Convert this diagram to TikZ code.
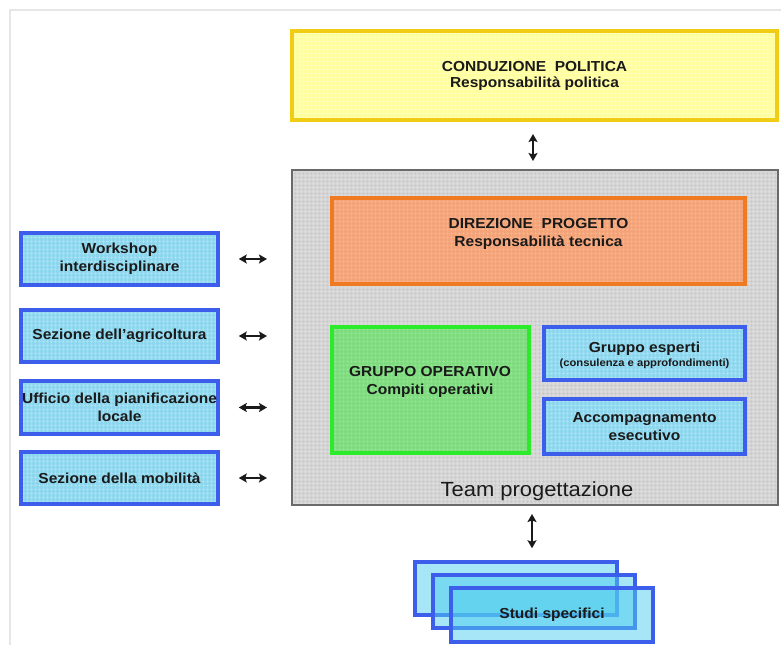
\documentclass[tikz,border=0pt]{standalone}
\usepackage{fontspec}
\setmainfont{Liberation Sans}[FakeStretch=1.07]
\usetikzlibrary{arrows.meta,patterns.meta}

\definecolor{ylwD}{HTML}{F0CC14}
\definecolor{ylwF}{HTML}{FFFFA0}
\definecolor{ylwG}{HTML}{FFFFC6}
\definecolor{orgD}{HTML}{F07A22}
\definecolor{orgF}{HTML}{F4A378}
\definecolor{orgG}{HTML}{F7B791}
\definecolor{grnD}{HTML}{2BEB2B}
\definecolor{grnF}{HTML}{7EDC7E}
\definecolor{grnG}{HTML}{98E598}
\definecolor{bluD}{HTML}{3D5EEA}
\definecolor{bluF}{HTML}{8CD6EE}
\definecolor{bluG}{HTML}{B2E5F5}
\definecolor{stuF}{HTML}{4FCDEE}
\definecolor{gryD}{HTML}{6A6A6A}
\definecolor{gryF}{HTML}{D9D9D9}
\definecolor{gryG}{HTML}{C6C6C6}
\definecolor{frameC}{HTML}{E6E6E6}
\definecolor{ink}{HTML}{1A1A1A}

\tikzset{
  tbox/.style n args={3}{draw=#1, line width=3.5pt, preaction={fill=#2},
    pattern={Hatch[distance=4pt,angle=0,line width=0.4pt]}, pattern color=#3,
    inner sep=0pt, text=ink, align=center},
  bfont/.style={font=\bfseries\fontsize{14.5}{18}\selectfont},
  sidebox/.style={tbox={bluD}{bluF}{bluG}, bfont, minimum width=197, minimum height=52},
  studibox/.style={draw=bluD, line width=3.5pt, fill=stuF, fill opacity=0.5,
    draw opacity=1, text opacity=1, minimum width=202, minimum height=53,
    inner sep=0pt, text=ink, bfont},
  dbl/.style={{Stealth[length=8pt,width=9pt,inset=1.5pt]}-{Stealth[length=8pt,width=9pt,inset=1.5pt]},
    line width=2.3pt, ink},
}

\begin{document}
\begin{tikzpicture}[x=1pt,y=-1pt]
\useasboundingbox (0,0) rectangle (781,645);

% thin page frame
\draw[frameC, line width=1.2pt] (10,645) -- (10,10) -- (781,10);

% political level
\node[tbox={ylwD}{ylwF}{ylwG}, line width=4pt, minimum width=485, minimum height=89,
  font=\bfseries\fontsize{14.5}{16}\selectfont] (pol) at (534.5,75.5)
  {CONDUZIONE\ \ POLITICA\\Responsabilità politica};

% project team container
\node[tbox={gryD}{gryF}{gryG}, line width=2pt, minimum width=486, minimum height=335]
  (team) at (535,337.5) {};
\node[font=\fontsize{20.5}{24}\selectfont, text=ink, anchor=base, inner sep=0pt]
  (teamt) at (537,496) {Team progettazione};

% inner boxes
\node[tbox={orgD}{orgF}{orgG}, minimum width=413, minimum height=86] (dir) at (538.5,241) {};
\node[bfont, text=ink, align=center] (dirt) at (538.5,234)
  {DIREZIONE\ \ PROGETTO\\Responsabilità tecnica};

\node[tbox={grnD}{grnF}{grnG}, minimum width=197, minimum height=126] (gop) at (430.5,390) {};
\node[bfont, text=ink, align=center] (gopt) at (430,382)
  {GRUPPO OPERATIVO\\Compiti operativi};

\node[tbox={bluD}{bluF}{bluG}, minimum width=201, minimum height=53] (esp) at (644.5,353.5) {};
\node[text=ink, align=center, inner sep=0pt] (espt) at (644.5,355.5)
  {{\bfseries\fontsize{14.5}{17}\selectfont Gruppo esperti}\\[2pt]
   {\bfseries\fontsize{10.5}{12}\selectfont (consulenza e approfondimenti)}};
\node[tbox={bluD}{bluF}{bluG}, bfont, minimum width=201, minimum height=55] (acc) at (644.5,426.5)
  {Accompagnamento\\esecutivo};

% external bodies
\node[sidebox] (ws)  at (119.5,259)   {Workshop\\interdisciplinare};
\node[sidebox] (agr) at (119.5,336)   {Sezione dell'agricoltura};
\node[sidebox, minimum height=53] (pia) at (119.5,407.5) {Ufficio della pianificazione\\locale};
\node[sidebox] (mob) at (119.5,478)   {Sezione della mobilità};

% stacked studies
\node[studibox] (s1) at (516,588.5) {};
\node[studibox] (s2) at (534,601.5) {};
\node[studibox, minimum height=54] (s3) at (552,615) {Studi specifici};

% connectors
\foreach \b in {ws,agr,pia,mob}
  \draw[dbl, shorten <=19pt, shorten >=24pt] (\b.east) -- (\b.east -| team.west);

\coordinate (ax) at (533,0);
\draw[dbl, shorten <=12pt, shorten >=8pt] (pol.south -| ax) -- (team.north -| ax);
\coordinate (bx) at (532,0);
\draw[dbl, shorten <=8pt, shorten >=12pt] (team.south -| bx) -- (s1.north -| bx);

\end{tikzpicture}
\end{document}
